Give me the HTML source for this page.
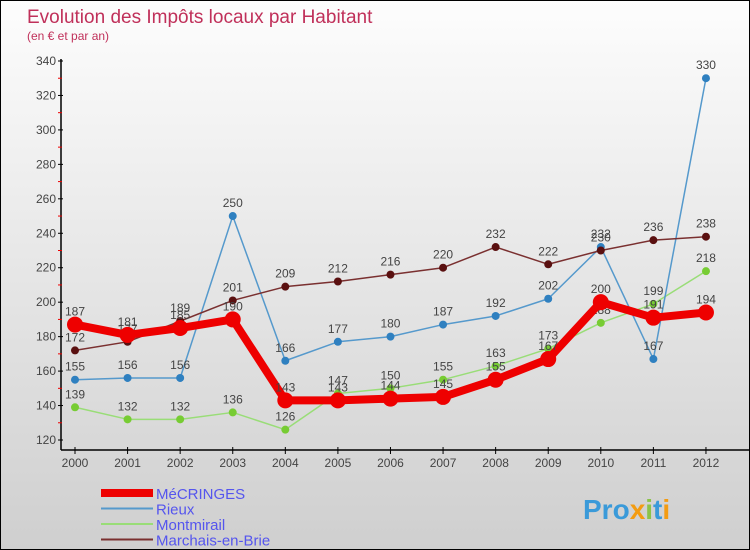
<!DOCTYPE html>
<html><head><meta charset="utf-8"><style>
body{margin:0}
#c{position:relative;width:748px;height:548px;border:1px solid #000;background:linear-gradient(#fdfdfd,#cfcfcf);overflow:hidden;font-family:"Liberation Sans",sans-serif}
</style></head><body>
<div id="c">
<svg id="s" width="748" height="548" style="position:absolute;left:0;top:0">
<text x="26" y="22" font-size="19" fill="#c0305a">Evolution des Impôts locaux par Habitant</text>
<text x="26" y="39" font-size="12" fill="#c0305a">(en € et par an)</text>
<g id="g"></g>
<text x="582" y="518" font-size="28" font-weight="bold" fill="#3a9ad9">Pro<tspan fill="#f39c12">x</tspan><tspan fill="#8bc34a">i</tspan>t<tspan fill="#f39c12">i</tspan></text>
</svg>
</div>
<script>
const years=[2000,2001,2002,2003,2004,2005,2006,2007,2008,2009,2010,2011,2012];
const yTicks=[120,140,160,180,200,220,240,260,280,300,320,340];
const mecringes=[187,181,185,190,143,143,144,145,155,167,200,191,194];
const rieux=[155,156,156,250,166,177,180,187,192,202,232,167,330];
const montmirail=[139,132,132,136,126,147,150,155,163,173,188,199,218];
const marchais=[172,177,189,201,209,212,216,220,232,222,230,236,238];
const NS='http://www.w3.org/2000/svg';
const g=document.getElementById('g');
const X=i=>74+i*52.58, Y=v=>439-(v-120)*379/220;
function mk(t,a,p){const e=document.createElementNS(NS,t);for(const k in a)e.setAttribute(k,a[k]);(p||g).appendChild(e);return e;}
const ya=mk('line',{x1:60,y1:58,x2:60,y2:449,stroke:'#000','stroke-width':1.5});


const xa=mk('line',{x1:60,y1:449,x2:748,y2:449,stroke:'#000','stroke-width':1.5});


yTicks.forEach((v,i)=>{
 mk('line',{x1:57,y1:Y(v),x2:62,y2:Y(v),stroke:'#000'});
 if(i<yTicks.length-1)mk('line',{x1:57,y1:Y(v+10),x2:61,y2:Y(v+10),stroke:'#e00'});
 const t=mk('text',{x:55,y:Y(v)+4,'font-size':12,fill:'#444','text-anchor':'end'});t.textContent=v;
 
 
});
years.forEach((y,i)=>{
 mk('line',{x1:X(i),y1:446,x2:X(i),y2:453,stroke:'#000'});
 const t=mk('text',{x:X(i),y:466,'font-size':12,fill:'#444','text-anchor':'middle'});t.textContent=y;
 
 
});
function series(d,col,dot,w,r,name){
 const s=mk('g',{});
 
 
 mk('polyline',{points:d.map((v,i)=>X(i)+','+Y(v)).join(' '),fill:'none',stroke:col,'stroke-width':w,'stroke-linejoin':'round'},s);
 d.forEach((v,i)=>{
  const c=mk('circle',{cx:X(i),cy:Y(v),r:r,fill:dot},s);
  
  
  const t=mk('text',{x:X(i),y:Y(v)-9,'font-size':12,fill:'#444','text-anchor':'middle'},s);t.textContent=v;
 });
}
series(montmirail,'#99dd77','#77cc33',1.5,4,'montmirail');
series(rieux,'#5599cc','#2f80c0',1.5,4,'rieux');
series(marchais,'#7a3030','#5a1010',1.5,4,'marchais');
series(mecringes,'#ee0000','#ee0000',8,8,'mecringes');
const leg=[['MéCRINGES','#ee0000',8],['Rieux','#5599cc',2],['Montmirail','#99dd77',2],['Marchais-en-Brie','#7a3030',2]];
leg.forEach((l,i)=>{
 const y=492+i*15.5;
 const e=mk('g',{});
 
 
 mk('line',{x1:100,y1:y,x2:152,y2:y,stroke:l[1],'stroke-width':l[2]},e);
 const t=mk('text',{x:155,y:y+6,'font-size':15,fill:'#5555ee'},e);t.textContent=l[0];
});
</script>
</body></html>
